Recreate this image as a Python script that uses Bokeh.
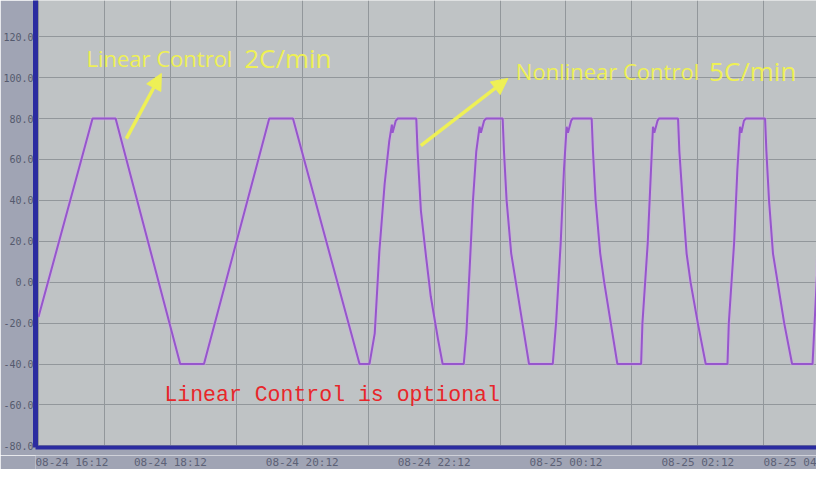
from bokeh.plotting import figure
from bokeh.layouts import column
from bokeh.models import (FixedTicker, PrintfTickFormatter, Label, Arrow, NormalHead, Range1d,
                          ColumnDataSource)
from bokeh.embed import file_html
from bokeh.resources import INLINE

# Time in hours after 08-24 16:12, temperature in degC
hours = [0.00, 0.82, 1.17, 2.15, 2.51, 3.50, 3.86, 4.87, 5.02,
         5.10, 5.17, 5.25, 5.32, 5.36, 5.37, 5.42, 5.45, 5.73, 5.75, 5.80, 5.88, 5.95, 6.06, 6.13, 6.45,
         6.49, 6.54, 6.59, 6.64, 6.69, 6.71, 6.76, 6.79, 7.04, 7.06, 7.10, 7.17, 7.24, 7.34, 7.44, 7.80,
         7.85, 7.92, 7.97, 8.01, 8.03, 8.08, 8.10, 8.39, 8.41, 8.45, 8.52, 8.58, 8.68, 8.78, 9.14,
         9.16, 9.24, 9.29, 9.32, 9.34, 9.39, 9.41, 9.70, 9.72, 9.77, 9.83, 9.89, 10.00, 10.12, 10.45,
         10.47, 10.55, 10.60, 10.64, 10.66, 10.70, 10.73, 11.02, 11.04, 11.08, 11.14, 11.21, 11.31, 11.43, 11.74,
         11.83]
temps = [-17, 80, 80, -40, -40, 80, 80, -40, -40,
         -25, 15, 48, 69, 77, 73, 79, 80, 80, 64, 35, 12, -7, -28, -40, -40,
         -25, 7, 40, 64, 76, 73, 79, 80, 80, 64, 40, 14, 0, -20, -40, -40,
         -20, 19, 55, 76, 73, 79, 80, 80, 64, 40, 14, 0, -20, -40, -40,
         -20, 19, 55, 76, 73, 79, 80, 80, 64, 40, 14, 0, -20, -40, -40,
         -20, 19, 55, 76, 73, 79, 80, 80, 64, 40, 14, 0, -20, -40, -40,
         18]

X_START, X_END = -0.045, 11.80
Y_START, Y_END = -80.8, 137.7

# time-axis labels as the recorder screen shows them (first and last kept inside the screen)
x_tick_hours = [0, 2, 4, 6, 8, 10, X_END]
x_tick_labels = ["08-24 16:12", "08-24 18:12", "08-24 20:12", "08-24 22:12",
                 "08-25 00:12", "08-25 02:12", "08-25 04"]
grid_hours = [0, 1, 2, 3, 4, 5, 6, 7, 8, 9, 10, 11]
y_ticks = [-80, -60, -40, -20, 0, 20, 40, 60, 80, 100, 120]

YELLOW = "#eef055"
W = 816
AXIS_BLUE = "#2b2ca0"
LABEL_GREY = "#5c6176"
BORDER = "#a0a4b4"

x_range = Range1d(X_START, X_END)

p = figure(width=W, height=455, output_backend="svg", toolbar_location=None,
           x_range=x_range, y_range=Range1d(Y_START, Y_END),
           min_border_left=34, min_border_right=0, min_border_top=0, min_border_bottom=8,
           background_fill_color="#bfc3c5", border_fill_color=BORDER,
           outline_line_color=None)

src = ColumnDataSource(dict(h=hours, t=temps))
p.line("h", "t", source=src, line_color="#d0a9e8", line_width=4, line_alpha=0.45)
p.line("h", "t", source=src, line_color="#9656cc", line_width=2)

p.xaxis.ticker = FixedTicker(ticks=[])
p.xaxis.major_label_standoff = 0
p.xaxis.major_tick_out = 0
p.xaxis.major_tick_in = 0
p.xaxis.minor_tick_out = 0
p.xaxis.minor_tick_in = 0
p.xaxis.axis_label_standoff = 0
p.xaxis.axis_line_color = AXIS_BLUE
p.xaxis.axis_line_width = 4

p.yaxis.ticker = FixedTicker(ticks=y_ticks)
p.yaxis.formatter = PrintfTickFormatter(format="%.1f")
p.yaxis.major_tick_out = 0
p.yaxis.major_tick_in = 0
p.yaxis.minor_tick_out = 0
p.yaxis.minor_tick_in = 0
p.yaxis.major_tick_line_color = None
p.yaxis.minor_tick_line_color = None
p.yaxis.axis_label_standoff = 0
p.yaxis.major_label_standoff = 2
p.yaxis.major_label_text_font = "DejaVu Sans Mono"
p.yaxis.major_label_text_font_size = "10px"
p.yaxis.major_label_text_color = "#555a6e"
p.yaxis.axis_line_color = AXIS_BLUE
p.yaxis.axis_line_width = 5

p.xgrid.ticker = FixedTicker(ticks=grid_hours)
p.ygrid.ticker = FixedTicker(ticks=y_ticks)
for g in (p.xgrid, p.ygrid):
    g.grid_line_color = "#92979b"
    g.grid_line_width = 1

# annotations
p.add_layout(Label(x=0.727, y=109.8, text="Linear Control", text_font="Open Sans",
                   text_font_size="22px", text_color=YELLOW, text_baseline="alphabetic"))
p.add_layout(Label(x=3.12, y=109.8, text="2C/min", text_font="Open Sans",
                   text_font_size="26px", text_color=YELLOW, text_baseline="alphabetic"))
p.add_layout(Label(x=7.24, y=103.0, text="Nonlinear Control", text_font="Open Sans",
                   text_font_size="22px", text_color=YELLOW, text_baseline="alphabetic"))
p.add_layout(Label(x=10.17, y=103.0, text="5C/min", text_font="Open Sans",
                   text_font_size="26px", text_color=YELLOW, text_baseline="alphabetic"))
p.add_layout(Label(x=1.91, y=-54.9, text="Linear Control is optional", text_font="Liberation Mono",
                   text_font_size="21.5px", text_color="#e8262a", text_baseline="alphabetic"))

p.add_layout(Arrow(end=NormalHead(size=16, fill_color=YELLOW, line_color=YELLOW),
                   x_start=1.333, y_start=70.2, x_end=1.864, y_end=102.0,
                   line_color=YELLOW, line_width=3.5))
p.add_layout(Arrow(end=NormalHead(size=16, fill_color=YELLOW, line_color=YELLOW),
                   x_start=5.80, y_start=66.8, x_end=7.12, y_end=99.6,
                   line_color=YELLOW, line_width=3.5))

# strip with the time labels, sharing the time scale of the chart
b = figure(width=W, height=14, output_backend="svg", toolbar_location=None,
           x_range=x_range, y_range=Range1d(0, 14),
           min_border_left=34, min_border_right=0, min_border_top=0, min_border_bottom=0,
           background_fill_color=BORDER, border_fill_color=BORDER,
           outline_line_color=None, x_axis_location=None, y_axis_location=None)
b.grid.visible = False
n = len(x_tick_labels)
aligns = ["left"] + ["center"] * (n - 2) + ["right"]
offsets = [-3] + [0] * (n - 1)
lab_src = ColumnDataSource(dict(x=x_tick_hours, y=[7] * n, text=x_tick_labels,
                                align=aligns, dx=offsets))
b.text("x", "y", text="text", source=lab_src, text_align="align", x_offset="dx",
       text_baseline="middle", text_font={"value": "DejaVu Sans Mono"},
       text_font_size={"value": "11px"}, text_color=LABEL_GREY)

open("out.html", "w").write(file_html(column(p, b, spacing=0), INLINE))
